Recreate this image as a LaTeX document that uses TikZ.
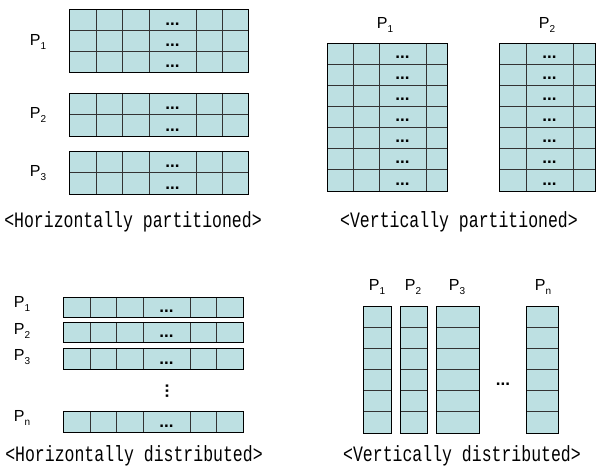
\documentclass[tikz,border=0pt]{standalone}
\usepackage{fontspec}
\setmainfont{Liberation Sans}
\newfontfamily\capfont[FakeStretch=0.75]{Liberation Mono}
\begin{document}
\begin{tikzpicture}[x=1pt,y=-1pt,
  cell/.style={fill=cellfill,draw=black,line width=0.8pt},
  gridline/.style={draw=black!80,line width=0.8pt},
  plabel/.style={font=\fontsize{16}{16}\selectfont,inner sep=0pt},
  dots/.style={font=\fontsize{17}{17}\selectfont\bfseries,inner sep=0pt,anchor=base},
  caption/.style={font=\capfont\fontsize{22}{22}\selectfont,inner sep=0pt,anchor=base}]
\definecolor{cellfill}{HTML}{BDE0E2}
\useasboundingbox (0,0) rectangle (600,475);

% ---------- horizontally partitioned ----------
% block P1 (three rows), P2 and P3 (two rows each)
\foreach \top/\bot/\rows in {9/72/3, 93/136/2, 151/194/2}{
  \path[cell] (69,\top) rectangle (248,\bot);
  \foreach \cx in {96,122,149,196,222}
    \draw[gridline] (\cx,\top) -- (\cx,\bot);
  \pgfmathsetmacro{\rh}{(\bot-\top)/\rows}
  \foreach \r in {1,...,\rows}{
    \pgfmathsetmacro{\ry}{\top+\r*\rh}
    \ifnum\r<\rows \draw[gridline] (69,\ry) -- (248,\ry); \fi
    \node[dots] at (172.5,\ry-5) {...};
  }
  \path[draw=black,line width=0.8pt] (69,\top) rectangle (248,\bot);
}
\node[plabel] (hp1) at (38,42) {P\raisebox{-4pt}{\fontsize{10}{10}\selectfont 1}};
\node[plabel] (hp2) at (38,115) {P\raisebox{-4pt}{\fontsize{10}{10}\selectfont 2}};
\node[plabel] (hp3) at (38,173) {P\raisebox{-4pt}{\fontsize{10}{10}\selectfont 3}};
\node[caption] (hcap) at (133,227) {<Horizontally partitioned>};

% ---------- vertically partitioned ----------
\path[cell] (327,43) rectangle (447,191);
\foreach \cx in {353,379,426} \draw[gridline] (\cx,43) -- (\cx,191);
\path[cell] (499,43) rectangle (595,191);
\foreach \cx in {526,573} \draw[gridline] (\cx,43) -- (\cx,191);
\foreach \r in {1,...,7}{
  \pgfmathsetmacro{\ry}{43+\r*148/7}
  \ifnum\r<7
    \draw[gridline] (327,\ry) -- (447,\ry);
    \draw[gridline] (499,\ry) -- (595,\ry);
  \fi
  \node[dots] at (402.5,\ry-6) {...};
  \node[dots] at (549.5,\ry-6) {...};
}
\draw[line width=0.8pt] (327,43) rectangle (447,191);
\draw[line width=0.8pt] (499,43) rectangle (595,191);
\node[plabel] (vp1) at (385,25) {P\raisebox{-4pt}{\fontsize{10}{10}\selectfont 1}};
\node[plabel] (vp2) at (547,25) {P\raisebox{-4pt}{\fontsize{10}{10}\selectfont 2}};
\node[caption] (vcap) at (459,227) {<Vertically partitioned>};

% ---------- horizontally distributed ----------
\foreach \top/\bot in {297/317, 322/342, 348/369, 411/432}{
  \path[cell] (63,\top) rectangle (243,\bot);
  \foreach \cx in {90,116,143,190,216}
    \draw[gridline] (\cx,\top) -- (\cx,\bot);
  \draw[line width=0.8pt] (63,\top) rectangle (243,\bot);
  \node[dots] at (166.5,\bot-5) {...};
}
\node[dots,anchor=center,rotate=90] (vdots) at (167,391) {...};
\node[plabel] (hd1) at (22,304) {P\raisebox{-4pt}{\fontsize{10}{10}\selectfont 1}};
\node[plabel] (hd2) at (22,331) {P\raisebox{-4pt}{\fontsize{10}{10}\selectfont 2}};
\node[plabel] (hd3) at (22,357) {P\raisebox{-4pt}{\fontsize{10}{10}\selectfont 3}};
\node[plabel] (hdn) at (22,418) {P\raisebox{-4pt}{\fontsize{10}{10}\selectfont n}};
\node[caption] (hdcap) at (134,461) {<Horizontally distributed>};

% ---------- vertically distributed ----------
\foreach \l/\r in {363/391, 400/427, 436/479, 526/558}{
  \path[cell] (\l,306) rectangle (\r,433);
  \foreach \k in {1,...,5}
    \draw[gridline] (\l,306+\k*127/6) -- (\r,306+\k*127/6);
  \draw[line width=0.8pt] (\l,306) rectangle (\r,433);
}
\node[dots,anchor=center] (hdots) at (503,384) {...};
\node[plabel] (vd1) at (377,287) {P\raisebox{-4pt}{\fontsize{10}{10}\selectfont 1}};
\node[plabel] (vd2) at (413,287) {P\raisebox{-4pt}{\fontsize{10}{10}\selectfont 2}};
\node[plabel] (vd3) at (457,287) {P\raisebox{-4pt}{\fontsize{10}{10}\selectfont 3}};
\node[plabel] (vdn) at (543,287) {P\raisebox{-4pt}{\fontsize{10}{10}\selectfont n}};
\node[caption] (vdcap) at (462,461) {<Vertically distributed>};
\end{tikzpicture}
\end{document}
